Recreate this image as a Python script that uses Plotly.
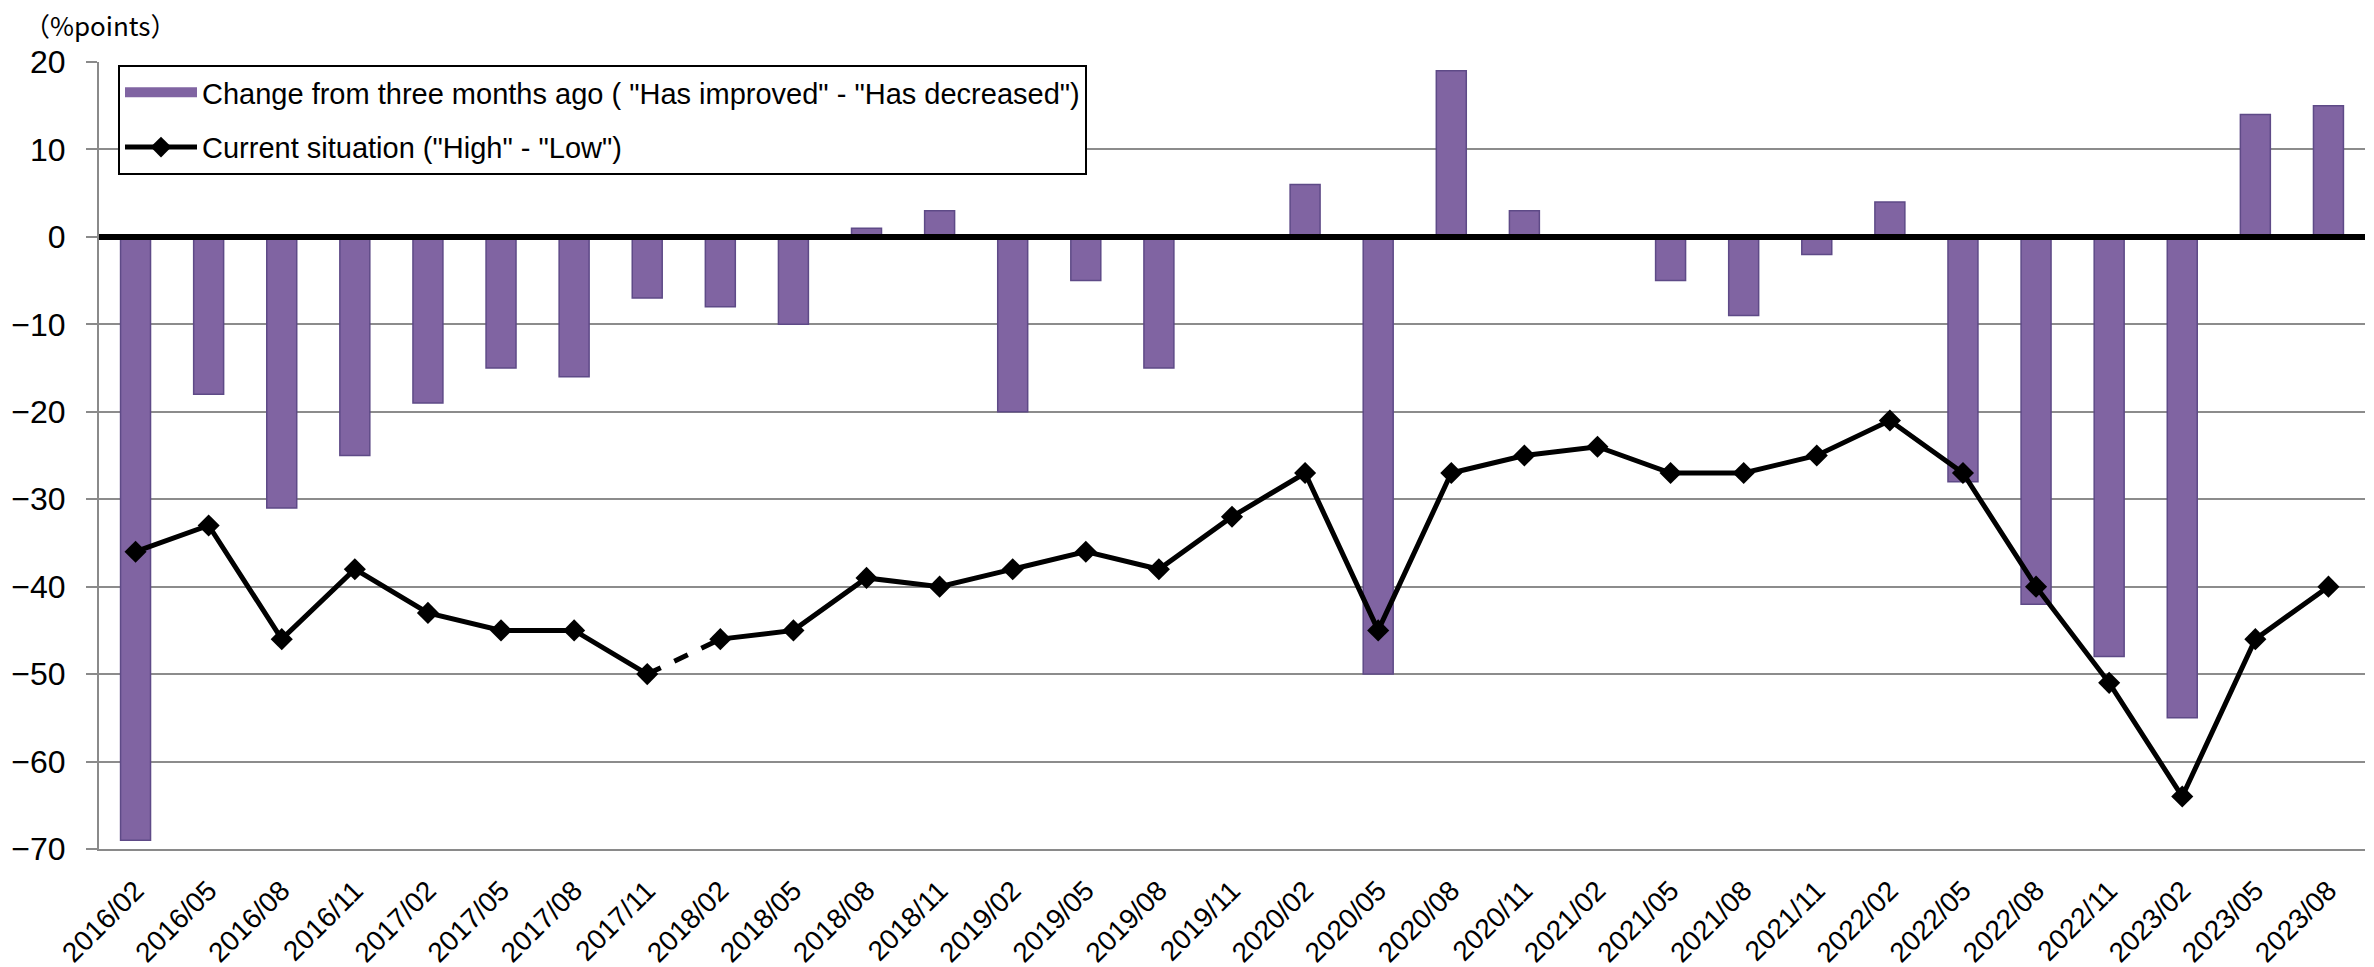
import plotly.graph_objects as go

categories = ["2016/02", "2016/05", "2016/08", "2016/11", "2017/02", "2017/05", "2017/08", "2017/11",
              "2018/02", "2018/05", "2018/08", "2018/11", "2019/02", "2019/05", "2019/08", "2019/11",
              "2020/02", "2020/05", "2020/08", "2020/11", "2021/02", "2021/05", "2021/08", "2021/11",
              "2022/02", "2022/05", "2022/08", "2022/11", "2023/02", "2023/05", "2023/08"]

change_values = [-69, -18, -31, -25, -19, -15, -16, -7,
                 -8, -10, 1, 3, -20, -5, -15, 0,
                 6, -50, 19, 3, 0, -5, -9, -2,
                 4, -28, -42, -48, -55, 14, 15]

current_values = [-36, -33, -46, -38, -43, -45, -45, -50,
                  -46, -45, -39, -40, -38, -36, -38, -32,
                  -27, -45, -27, -25, -24, -27, -27, -25,
                  -21, -27, -40, -51, -64, -46, -40]

bar_name = 'Change from three months ago ( "Has improved" - "Has decreased")'
line_name = 'Current situation ("High" - "Low")'
y_title = "（%points）"

BREAK = 7  # dashed link between 2017/11 and 2018/02

W, H = 2374, 967
ML, MR, MT, MB = 99, 9, 62, 118
PW, PH = W - ML - MR, H - MT - MB

FONT = "Liberation Sans, Arial, sans-serif"
PURPLE = "#8064A2"

fig = go.Figure()

fig.add_trace(go.Bar(
    x=categories, y=change_values, name=bar_name,
    width=0.41,
    marker=dict(color=PURPLE, line=dict(color="#5E4A87", width=1.5)),
    legendgroup="a", showlegend=False,
))
# legend entry for the bars (wide swatch like the original)
fig.add_trace(go.Scatter(
    x=[None], y=[None], mode="lines", name=bar_name,
    line=dict(color=PURPLE, width=15), legendgroup="a", showlegend=True,
))

line_style = dict(color="black", width=5)
marker_style = dict(symbol="diamond", size=17, color="black")

fig.add_trace(go.Scatter(
    x=categories[:BREAK + 1], y=current_values[:BREAK + 1], mode="lines+markers",
    name=line_name, line=line_style, marker=marker_style, legendgroup="b",
))
fig.add_trace(go.Scatter(
    x=categories[BREAK:BREAK + 2], y=current_values[BREAK:BREAK + 2], mode="lines",
    line=dict(color="black", width=5, dash="dash"), showlegend=False, legendgroup="b",
))
fig.add_trace(go.Scatter(
    x=categories[BREAK + 1:], y=current_values[BREAK + 1:], mode="lines+markers",
    line=line_style, marker=marker_style, showlegend=False, legendgroup="b",
))

fig.update_layout(
    width=W, height=H,
    margin=dict(l=ML, r=MR, t=MT, b=MB, pad=0, autoexpand=False),
    paper_bgcolor="white", plot_bgcolor="white",
    font=dict(family=FONT, color="black"),
    showlegend=True,
    legend=dict(
        x=(118 - ML) / PW, y=1 - (65 - MT) / PH, xanchor="left", yanchor="top",
        bgcolor="white", bordercolor="black", borderwidth=2,
        font=dict(family=FONT, size=29, color="black"),
        traceorder="grouped", tracegroupgap=14,
        itemwidth=72,
    ),
    bargap=0.59,
)

fig.update_xaxes(
    type="category", range=[-0.5, len(categories) - 0.5],
    showline=True, linecolor="#8a8a8a", linewidth=2,
    showgrid=False, ticks="", tickangle=-45,
    tickfont=dict(family=FONT, size=28, color="black"),
    ticklabelstandoff=12, automargin=False,
)
fig.update_yaxes(
    range=[-70, 20], dtick=10, tick0=0,
    showline=True, linecolor="#8a8a8a", linewidth=2,
    ticks="outside", ticklen=11, tickwidth=2, tickcolor="#8a8a8a",
    showgrid=True, gridcolor="#8c8c8c", gridwidth=2,
    zeroline=True, zerolinecolor="black", zerolinewidth=6,
    tickfont=dict(family=FONT, size=32, color="black"),
    ticklabelstandoff=14, automargin=False,
)
try:
    fig.update_yaxes(zerolinelayer="above traces")
except Exception:
    pass

fig.add_annotation(
    text=y_title, xref="paper", yref="paper",
    x=(22 - ML) / PW, y=1 + (MT - 24) / PH, xanchor="left", yanchor="middle",
    showarrow=False, font=dict(family="Noto Sans CJK JP", size=26, color="black"),
)

fig.write_html("out.html")
